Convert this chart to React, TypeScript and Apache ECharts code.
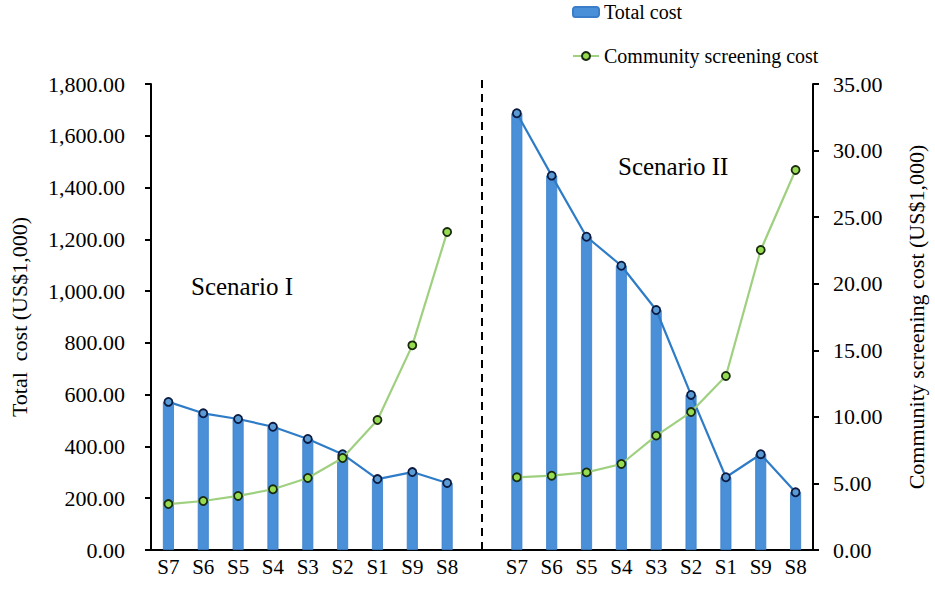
import React, { useEffect, useRef } from "react";
import * as echarts from "echarts";

const scenarioCategories = ["S7", "S6", "S5", "S4", "S3", "S2", "S1", "S9", "S8"];
const totalCostI = [572, 528, 506, 476, 429, 370, 274, 301, 259];
const totalCostII = [1687, 1446, 1210, 1098, 927, 599, 281, 370, 223];
const screeningCostI = [3.45, 3.68, 4.06, 4.56, 5.41, 6.91, 9.76, 15.37, 23.88];
const screeningCostII = [5.46, 5.58, 5.83, 6.46, 8.59, 10.36, 13.07, 22.53, 28.54];
const leftTicks = { min: 0, max: 1800, interval: 200 };
const rightTicks = { min: 0, max: 35, interval: 5 };
const scenarioLabels = ["Scenario I", "Scenario II"];

const FONT = "Liberation Serif";

function fmt(v: number): string {
  const fixed = v.toFixed(2);
  const [i, d] = fixed.split(".");
  return i.replace(/\B(?=(\d{3})+(?!\d))/g, ",") + "." + d;
}

export default function App() {
  const ref = useRef<HTMLDivElement>(null);
  useEffect(() => {
    if (!ref.current) return;
    const chart = echarts.init(ref.current, undefined, { renderer: "svg" });
    const categories = [...scenarioCategories, "", ...scenarioCategories];
    const bars = [...totalCostI, null, ...totalCostII];
    const greens = [...screeningCostI, null, ...screeningCostII];
    const gapIndex = scenarioCategories.length;

    chart.setOption({
      animation: false,
      textStyle: { fontFamily: FONT },
      grid: { left: 145, right: 116, top: 84, bottom: 39, containLabel: false },
      legend: {
        orient: "vertical",
        left: 567,
        top: -3,
        itemGap: 24,
        itemWidth: 26,
        itemHeight: 10,
        data: ["Total cost", "Community screening cost"],
        textStyle: { fontFamily: FONT, fontSize: 20, color: "#000" },
      },
      xAxis: {
        type: "category",
        data: categories,
        axisLine: { lineStyle: { color: "#000", width: 2 } },
        axisTick: { alignWithLabel: true, length: 6, lineStyle: { color: "#000", width: 2 } },
        axisLabel: { fontFamily: FONT, fontSize: 21, color: "#000", margin: 6, interval: 0 },
      },
      yAxis: [
        {
          type: "value",
          ...leftTicks,
          name: "Total  cost (US$1,000)",
          nameLocation: "middle",
          nameGap: 121,
          nameTextStyle: { fontFamily: FONT, fontSize: 22, color: "#000" },
          axisLine: { show: true, lineStyle: { color: "#000", width: 2 } },
          axisTick: { show: true, length: 6, lineStyle: { color: "#000", width: 2 } },
          axisLabel: { fontFamily: FONT, fontSize: 22, color: "#000", formatter: (v: number) => fmt(v), margin: 26 },
          splitLine: { show: false },
        },
        {
          type: "value",
          ...rightTicks,
          position: "right",
          name: "Community screening cost (US$1,000)",
          nameLocation: "middle",
          nameGap: 92,
          nameRotate: 90,
          nameTextStyle: { fontFamily: FONT, fontSize: 22, color: "#000" },
          axisLine: { show: true, lineStyle: { color: "#000", width: 2 } },
          axisTick: { show: true, length: 6, lineStyle: { color: "#000", width: 2 } },
          axisLabel: { fontFamily: FONT, fontSize: 22, color: "#000", formatter: (v: number) => fmt(v), margin: 20 },
          splitLine: { show: false },
        },
      ],
      series: [
        {
          name: "Total cost",
          type: "bar",
          data: bars,
          barWidth: 11,
          itemStyle: { color: "#4a90d9", borderColor: "#3a7dc8", borderWidth: 0.8 },
        },
        {
          name: "Total cost line",
          type: "line",
          data: bars,
          connectNulls: false,
          symbol: "circle",
          symbolSize: 8,
          lineStyle: { color: "#2e7cc7", width: 2.2 },
          itemStyle: { color: "#5b9bd5", borderColor: "#0c1a40", borderWidth: 1.8 },
          z: 3,
        },
        {
          name: "Community screening cost",
          type: "line",
          yAxisIndex: 1,
          data: greens,
          connectNulls: false,
          symbol: "circle",
          symbolSize: 8,
          lineStyle: { color: "#9fd07f", width: 2.2 },
          itemStyle: { color: "#96dc50", borderColor: "#1a2a0e", borderWidth: 1.8 },
          z: 4,
        },
      ],
      graphic: [
        {
          type: "text",
          left: 191,
          top: 274,
          style: { text: scenarioLabels[0], fontFamily: FONT, fontSize: 25, fill: "#000" },
        },
        {
          type: "text",
          left: 618,
          top: 154,
          style: { text: scenarioLabels[1], fontFamily: FONT, fontSize: 25, fill: "#000" },
        },
      ],
    });

    const gx = chart.convertToPixel({ xAxisIndex: 0 }, gapIndex) as number;
    const y0 = chart.convertToPixel({ yAxisIndex: 0 }, 0) as number;
    const yTop = chart.convertToPixel({ yAxisIndex: 0 }, leftTicks.max) as number;
    chart.setOption({
      graphic: [
        {
          type: "line",
          id: "gapLine",
          shape: { x1: gx, y1: yTop - 4, x2: gx, y2: y0 },
          style: { stroke: "#000", lineWidth: 2, lineDash: [8, 6] },
          z: 10,
        },
      ],
    });
    return () => chart.dispose();
  }, []);
  return (
    <div
      ref={ref}
      style={{ width: 935, height: 589, position: "absolute", left: 0, top: 0 }}
    />
  );
}
